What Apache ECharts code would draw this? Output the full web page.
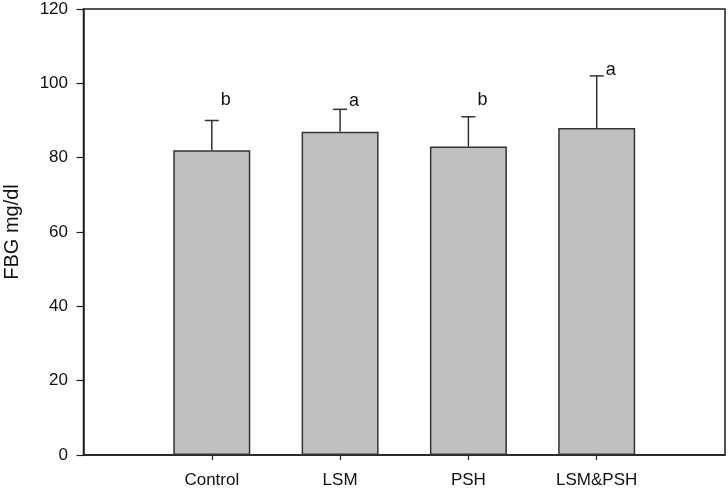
<!DOCTYPE html>
<html>
<head>
<meta charset="utf-8">
<script src="https://cdn.jsdelivr.net/npm/echarts@6/dist/echarts.min.js"></script>
<style>
  * { margin: 0; padding: 0; }
  body { background: #fff; }
  #main { width: 728px; height: 490px; }
</style>
</head>
<body>
<div id="main"></div>
<script>
  // data
  var categories = ['Control', 'LSM', 'PSH', 'LSM&PSH'];
  var means = [82, 87, 83, 88];
  var errUpper = [90, 93, 91, 102];   // top of error bar
  var letters = ['b', 'a', 'b', 'a'];
  var letterY = [95.5, 95.2, 95.5, 103.6];
  var yTicks = [0, 20, 40, 60, 80, 100, 120];

  // empty slot on each side of the axis, as in the original figure
  var axisData = [''].concat(categories, ['']);
  var barData = [null].concat(means, [null]);
  var errData = categories.map(function (c, i) { return [i + 1, means[i], errUpper[i]]; });
  var letterData = categories.map(function (c, i) { return [i + 1, letterY[i], letters[i]]; });

  var font = 'Liberation Sans, Arial, sans-serif';
  var ink = '#1e1e1e';

  var chart = echarts.init(document.getElementById('main'));
  chart.setOption({
    animation: false,
    backgroundColor: '#fff',
    grid: {
      left: 83.5, right: 3, top: 9, bottom: 35,
      outerBoundsMode: 'none',
      show: true, borderColor: ink, borderWidth: 1.5, backgroundColor: 'transparent'
    },
    xAxis: {
      type: 'category',
      data: axisData,
      boundaryGap: false,
      axisLine: { lineStyle: { color: ink, width: 1.5 } },
      axisTick: {
        length: 5,
        lineStyle: { color: ink, width: 1.2 },
        interval: function (idx, val) { return val !== ''; }
      },
      axisLabel: {
        interval: 0, margin: 17, color: '#111', fontSize: 17, fontFamily: font
      },
      splitLine: { show: false }
    },
    yAxis: {
      type: 'value',
      min: yTicks[0],
      max: yTicks[yTicks.length - 1],
      interval: 20,
      name: 'FBG mg/dl',
      nameLocation: 'middle',
      nameGap: 61,
      nameTextStyle: { color: '#111', fontSize: 20, fontFamily: font },
      axisLine: { show: true, lineStyle: { color: ink, width: 1.5 } },
      axisTick: { show: true, length: 7, lineStyle: { color: ink, width: 1.2 } },
      axisLabel: { margin: 15.5, color: '#111', fontSize: 17, fontFamily: font },
      splitLine: { show: false }
    },
    series: [
      {
        type: 'bar',
        data: barData,
        barWidth: 77,
        itemStyle: { color: '#c0c0c0', borderColor: '#333', borderWidth: 1.5 },
        z: 2
      },
      {
        type: 'custom',
        data: errData,
        z: 3,
        renderItem: function (params, api) {
          var top = api.coord([api.value(0), api.value(2)]);
          var base = api.coord([api.value(0), api.value(1)]);
          var style = { stroke: '#333', lineWidth: 1.5 };
          return {
            type: 'group',
            children: [
              { type: 'line', shape: { x1: top[0], y1: base[1], x2: top[0], y2: top[1] }, style: style },
              { type: 'line', shape: { x1: top[0] - 7, y1: top[1], x2: top[0] + 7, y2: top[1] }, style: style }
            ]
          };
        }
      },
      {
        type: 'custom',
        data: letterData,
        z: 4,
        renderItem: function (params, api) {
          var p = api.coord([api.value(0), api.value(1)]);
          return {
            type: 'text',
            x: p[0] + 14,
            y: p[1],
            style: {
              text: letters[params.dataIndex],
              fill: '#111',
              font: '18px ' + font,
              align: 'center',
              verticalAlign: 'middle'
            }
          };
        }
      }
    ]
  });
</script>
</body>
</html>
